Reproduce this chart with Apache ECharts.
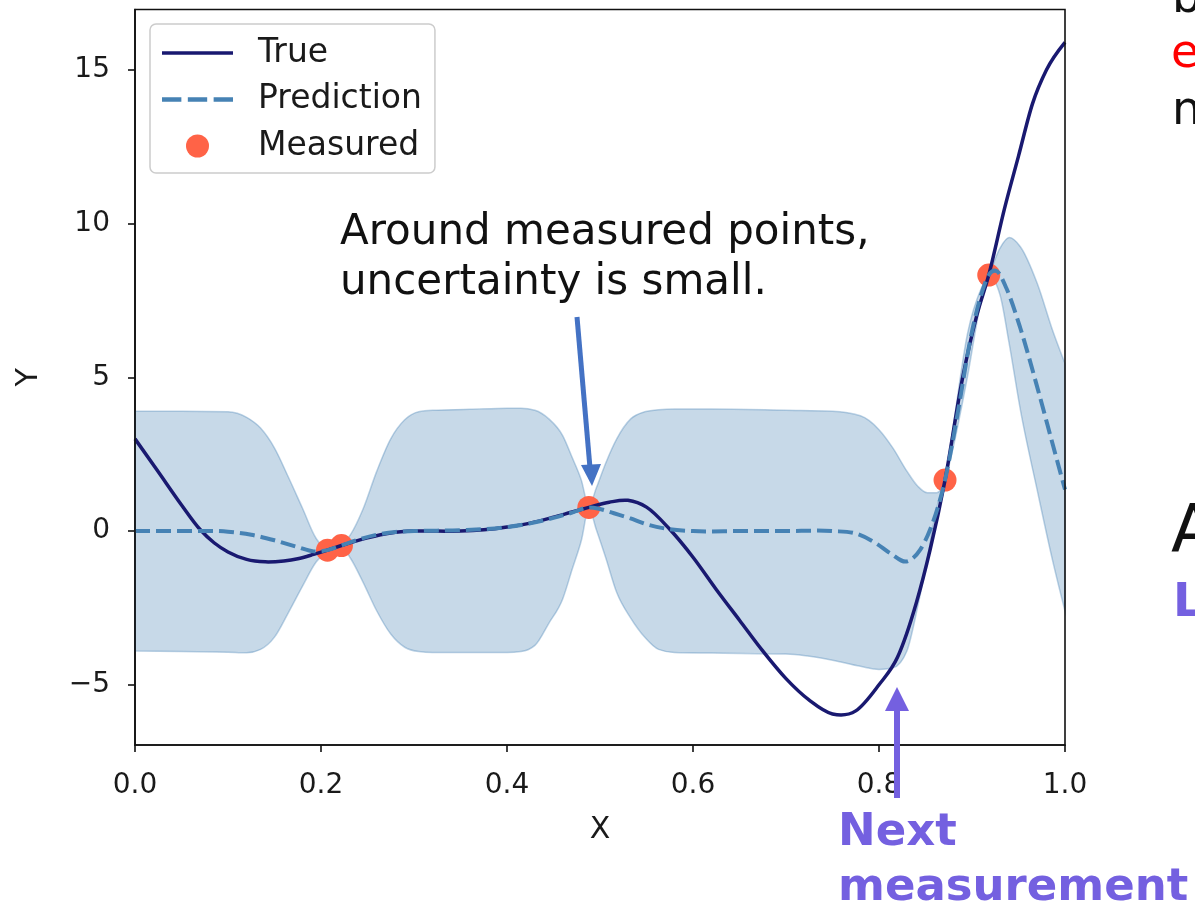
<!DOCTYPE html>
<html><head><meta charset="utf-8">
<script src="https://cdn.jsdelivr.net/npm/echarts@6/dist/echarts.min.js"></script>
<style>html,body{margin:0;padding:0;background:#fff}#c{width:1195px;height:909px}</style>
</head><body><div id="c"></div>
<script>
const xTicks = [0, 0.2, 0.4, 0.6, 0.8, 1.0];
const yTicks = [-5, 0, 5, 10, 15];
const seriesNames = ['True', 'Prediction', 'Measured'];

const trueX = [0, 0.025, 0.05, 0.07, 0.085, 0.1, 0.12, 0.14, 0.16, 0.175, 0.192, 0.207, 0.222, 0.25, 0.275, 0.3, 0.325, 0.35, 0.375, 0.4, 0.425, 0.45, 0.47, 0.488, 0.51, 0.53, 0.55, 0.575, 0.6, 0.625, 0.65, 0.675, 0.7, 0.725, 0.75, 0.775, 0.8, 0.82, 0.84, 0.855, 0.871, 0.89, 0.905, 0.918, 0.935, 0.95, 0.965, 0.98, 1.0];
const trueY = [3.0, 1.93, 0.85, 0.05, -0.38, -0.68, -0.92, -1.0, -0.97, -0.9, -0.76, -0.62, -0.47, -0.22, -0.06, 0.0, 0.0, 0.0, 0.04, 0.13, 0.26, 0.45, 0.62, 0.77, 0.94, 1.0, 0.78, 0.06, -0.85, -1.9, -2.9, -3.9, -4.8, -5.5, -5.95, -5.85, -5.0, -4.1, -2.35, -0.6, 1.66, 5.0, 7.0, 8.33, 10.5, 12.2, 13.9, 15.0, 15.9];

const predX = [0, 0.05, 0.1, 0.125, 0.15, 0.175, 0.192, 0.207, 0.222, 0.24, 0.26, 0.28, 0.3, 0.35, 0.4, 0.425, 0.45, 0.47, 0.488, 0.5, 0.515, 0.532, 0.55, 0.575, 0.6, 0.65, 0.7, 0.75, 0.775, 0.797, 0.812, 0.831, 0.844, 0.855, 0.871, 0.885, 0.898, 0.91, 0.918, 0.927, 0.937, 0.952, 0.97, 0.987, 1.0];
const predY = [0, 0, -0.02, -0.12, -0.3, -0.52, -0.66, -0.62, -0.47, -0.28, -0.12, -0.03, 0.0, 0.03, 0.13, 0.25, 0.43, 0.6, 0.77, 0.72, 0.58, 0.42, 0.22, 0.06, 0.0, 0.0, 0.0, 0.0, -0.08, -0.4, -0.72, -0.98, -0.62, 0.05, 1.66, 3.9, 6.2, 7.7, 8.33, 8.45, 7.9, 6.6, 4.7, 2.8, 1.35];

const bandX = [0, 0.05, 0.1, 0.12, 0.135, 0.15, 0.165, 0.18, 0.195, 0.207, 0.215, 0.222, 0.232, 0.245, 0.26, 0.275, 0.29, 0.305, 0.32, 0.36, 0.4, 0.415, 0.43, 0.445, 0.46, 0.47, 0.48, 0.488, 0.496, 0.506, 0.518, 0.533, 0.548, 0.563, 0.58, 0.62, 0.7, 0.75, 0.78, 0.8, 0.815, 0.83, 0.842, 0.852, 0.862, 0.871, 0.88, 0.895, 0.91, 0.918, 0.93, 0.94, 0.952, 0.97, 0.987, 1.0];
const bandUpper = [3.9, 3.9, 3.88, 3.7, 3.35, 2.7, 1.75, 0.75, -0.25, -0.58, -0.42, -0.42, -0.1, 0.7, 1.95, 3.0, 3.62, 3.88, 3.93, 3.96, 4.0, 4.0, 3.93, 3.65, 3.1, 2.4, 1.65, 0.8, 1.4, 2.2, 3.0, 3.65, 3.88, 3.95, 3.97, 3.97, 3.93, 3.9, 3.75, 3.3, 2.7, 1.95, 1.45, 1.25, 1.25, 1.66, 3.45, 6.4, 7.9, 8.33, 9.2, 9.55, 9.25, 8.07, 6.5, 5.45];
const bandLower = [-3.9, -3.92, -3.94, -3.96, -3.85, -3.45, -2.65, -1.8, -1.0, -0.66, -0.55, -0.52, -0.9, -1.65, -2.6, -3.35, -3.78, -3.92, -3.95, -3.95, -3.95, -3.92, -3.72, -3.0, -2.2, -1.25, -0.3, 0.74, 0.05, -0.85, -2.0, -2.83, -3.45, -3.85, -3.95, -3.97, -4.0, -4.2, -4.4, -4.5, -4.45, -3.9, -2.4, -0.9, 0.75, 1.62, 2.75, 5.0, 7.5, 8.3, 7.7, 6.1, 3.95, 1.35, -1.0, -2.6];

const measuredX = [0.207, 0.222, 0.488, 0.871, 0.918];
const measuredY = [-0.62, -0.47, 0.77, 1.66, 8.33];

const noteSmall = ['Around measured points,', 'uncertainty is small.'];
const noteNext = ['Next', 'measurement'];
const edgeLetters = ['b', 'e', 'n', 'A', 'L'];

const C_TRUE = '#191970', C_PRED = '#4682b4', C_MEAS = '#ff6347';

function pairs(xs, ys) { return xs.map((x, i) => [x, ys[i]]); }

// cubic Hermite segments in pixel space; limited = Steffen monotone, otherwise 3-point parabola slopes
function cubicSegments(pts, limited) {
  const n = pts.length, m = new Array(n).fill(0), s = [];
  for (let i = 0; i < n - 1; i++) {
    const h = pts[i + 1][0] - pts[i][0];
    s.push(h === 0 ? 0 : (pts[i + 1][1] - pts[i][1]) / h);
  }
  for (let i = 1; i < n - 1; i++) {
    const h0 = pts[i][0] - pts[i - 1][0], h1 = pts[i + 1][0] - pts[i][0];
    const s0 = s[i - 1], s1 = s[i];
    const p = (s0 * h1 + s1 * h0) / (h0 + h1);
    m[i] = limited
      ? ((Math.sign(s0) + Math.sign(s1)) * Math.min(Math.abs(s0), Math.abs(s1), 0.5 * Math.abs(p)) || 0)
      : p;
  }
  m[0] = (3 * s[0] - m[1]) / 2;
  m[n - 1] = (3 * s[n - 2] - m[n - 2]) / 2;
  const segs = [];
  for (let i = 0; i < n - 1; i++) {
    const h = (pts[i + 1][0] - pts[i][0]) / 3;
    segs.push([pts[i], [pts[i][0] + h, pts[i][1] + m[i] * h], [pts[i + 1][0] - h, pts[i + 1][1] - m[i + 1] * h], pts[i + 1]]);
  }
  return segs;
}
function f(p) { return p[0].toFixed(2) + ',' + p[1].toFixed(2); }
function pathOf(segs) {
  let d = 'M' + f(segs[0][0]);
  segs.forEach(sg => { d += ' C' + f(sg[1]) + ' ' + f(sg[2]) + ' ' + f(sg[3]); });
  return d;
}

function renderBand(params, api) {
  if (params.dataIndex !== 0) return null;
  const up = bandX.map((x, i) => api.coord([x, bandUpper[i]]));
  const lo = bandX.map((x, i) => api.coord([x, bandLower[i]]));
  const ls = cubicSegments(lo, true);
  let d = pathOf(cubicSegments(up, true));
  d += ' L' + f(lo[lo.length - 1]);
  for (let i = ls.length - 1; i >= 0; i--) {
    const sg = ls[i];
    d += ' C' + f(sg[2]) + ' ' + f(sg[1]) + ' ' + f(sg[0]);
  }
  d += ' Z';
  return {
    type: 'path', shape: { pathData: d },
    style: { fill: 'rgba(70,130,180,0.3)', stroke: 'rgba(70,130,180,0.35)', lineWidth: 1.5 }
  };
}
function lineRenderer(xs, ys, style) {
  return function (params, api) {
    if (params.dataIndex !== 0) return null;
    const pts = xs.map((x, i) => api.coord([x, ys[i]]));
    return { type: 'path', shape: { pathData: pathOf(cubicSegments(pts, false)) },
      style: Object.assign({ fill: 'none', lineJoin: 'round', lineCap: 'butt' }, style) };
  };
}

const fmtY = v => (v < 0 ? '\u2212' + Math.abs(v) : String(v));
const FONT = '"DejaVu Sans", Verdana, sans-serif';
const axisColor = '#111';

const chart = echarts.init(document.getElementById('c'), null, { renderer: 'canvas' });
chart.setOption({
  animation: false,
  backgroundColor: '#ffffff',
  textStyle: { fontFamily: FONT },
  grid: { left: 135, right: 130, top: 9.5, bottom: 164, show: true, borderColor: axisColor, borderWidth: 1.6, backgroundColor: 'transparent', z: 10 },
  xAxis: {
    type: 'value', min: 0, max: 1, interval: 0.2,
    axisLine: { show: true, onZero: false, lineStyle: { color: axisColor, width: 1.6 } },
    axisTick: { show: true, length: 7, lineStyle: { color: axisColor, width: 1.6 } },
    axisLabel: { fontSize: 28, color: '#1a1a1a', margin: 27, formatter: v => v.toFixed(1) },
    splitLine: { show: false },
    name: 'X', nameLocation: 'middle', nameGap: 70,
    nameTextStyle: { fontSize: 30, color: '#1a1a1a' }
  },
  yAxis: {
    type: 'value', min: -6.96, max: 16.97,
    axisLine: { show: true, onZero: false, lineStyle: { color: axisColor, width: 1.6 } },
    axisTick: { show: true, length: 7, customValues: yTicks, lineStyle: { color: axisColor, width: 1.6 } },
    axisLabel: { fontSize: 28, color: '#1a1a1a', margin: 25, customValues: yTicks, formatter: fmtY },
    splitLine: { show: false },
    name: 'Y', nameLocation: 'middle', nameRotate: 90, nameGap: 91,
    nameTextStyle: { fontSize: 30, color: '#1a1a1a' }
  },
  legend: {
    data: [
      { name: seriesNames[0], icon: 'path://M0,0H71V3.5H0Z', itemStyle: { color: C_TRUE } },
      { name: seriesNames[1], icon: 'path://M0,0H18V4H0Z M24,0H42V4H24Z M48,0H66V4H48Z', itemStyle: { color: C_PRED } },
      { name: seriesNames[2], icon: 'circle', itemStyle: { color: C_MEAS } }
    ],
    left: 150, top: 24, orient: 'vertical',
    itemWidth: 71, itemHeight: 23, itemGap: 10.5,
    padding: [11, 13, 9, 12],
    backgroundColor: 'rgba(255,255,255,0.8)', borderColor: '#cccccc', borderWidth: 1.5, borderRadius: 6,
    textStyle: { fontSize: 33, color: '#1a1a1a', lineHeight: 36, padding: [0, 0, 0, 20] }
  },
  series: [
    { type: 'custom', name: 'band', renderItem: renderBand, data: pairs(bandX, bandUpper), silent: true, z: 1 },
    { type: 'scatter', name: seriesNames[2], data: pairs(measuredX, measuredY), symbol: 'circle', symbolSize: 23,
      itemStyle: { color: C_MEAS, opacity: 1 }, z: 3, silent: true },
    { type: 'custom', name: seriesNames[0], data: pairs(trueX, trueY), itemStyle: { color: C_TRUE },
      renderItem: lineRenderer(trueX, trueY, { stroke: C_TRUE, lineWidth: 3.5 }), z: 4, silent: true },
    { type: 'custom', name: seriesNames[1], data: pairs(predX, predY), itemStyle: { color: C_PRED },
      renderItem: lineRenderer(predX, predY, { stroke: C_PRED, lineWidth: 4, lineDash: [15, 6] }), z: 5, silent: true }
  ],
  graphic: [
    { type: 'text', x: 340, y: 233, z: 100, style: { text: noteSmall[0], font: '42px ' + FONT, fill: '#111', verticalAlign: 'middle' } },
    { type: 'text', x: 340, y: 283, z: 100, style: { text: noteSmall[1], font: '42px ' + FONT, fill: '#111', verticalAlign: 'middle' } },
    { type: 'line', z: 100, shape: { x1: 577, y1: 317, x2: 590, y2: 468 }, style: { stroke: '#4472c4', lineWidth: 5 } },
    { type: 'polygon', z: 100, shape: { points: [[592, 486], [581, 465], [601, 464]] }, style: { fill: '#4472c4' } },
    { type: 'line', z: 100, shape: { x1: 897, y1: 798, x2: 897, y2: 705 }, style: { stroke: '#7460e0', lineWidth: 6 } },
    { type: 'polygon', z: 100, shape: { points: [[897, 687], [885, 711], [909, 711]] }, style: { fill: '#7460e0' } },
    { type: 'text', x: 838, y: 833, z: 100, style: { text: noteNext[0], font: 'bold 45px ' + FONT, fill: '#7460e0', verticalAlign: 'middle' } },
    { type: 'text', x: 838, y: 888, z: 100, style: { text: noteNext[1], font: 'bold 45px ' + FONT, fill: '#7460e0', verticalAlign: 'middle' } },
    { type: 'text', x: 1172, y: 0, z: 100, style: { text: edgeLetters[0], font: '46px ' + FONT, fill: '#111', verticalAlign: 'middle' } },
    { type: 'text', x: 1171, y: 55, z: 100, style: { text: edgeLetters[1], font: '46px ' + FONT, fill: '#ff0000', verticalAlign: 'middle' } },
    { type: 'text', x: 1172, y: 112, z: 100, style: { text: edgeLetters[2], font: '46px ' + FONT, fill: '#111', verticalAlign: 'middle' } },
    { type: 'text', x: 1171, y: 534, z: 100, style: { text: edgeLetters[3], font: '66px ' + FONT, fill: '#111', verticalAlign: 'middle' } },
    { type: 'text', x: 1173, y: 604, z: 100, style: { text: edgeLetters[4], font: 'bold 47px ' + FONT, fill: '#7460e0', verticalAlign: 'middle' } }
  ]
});
</script>
</body></html>
